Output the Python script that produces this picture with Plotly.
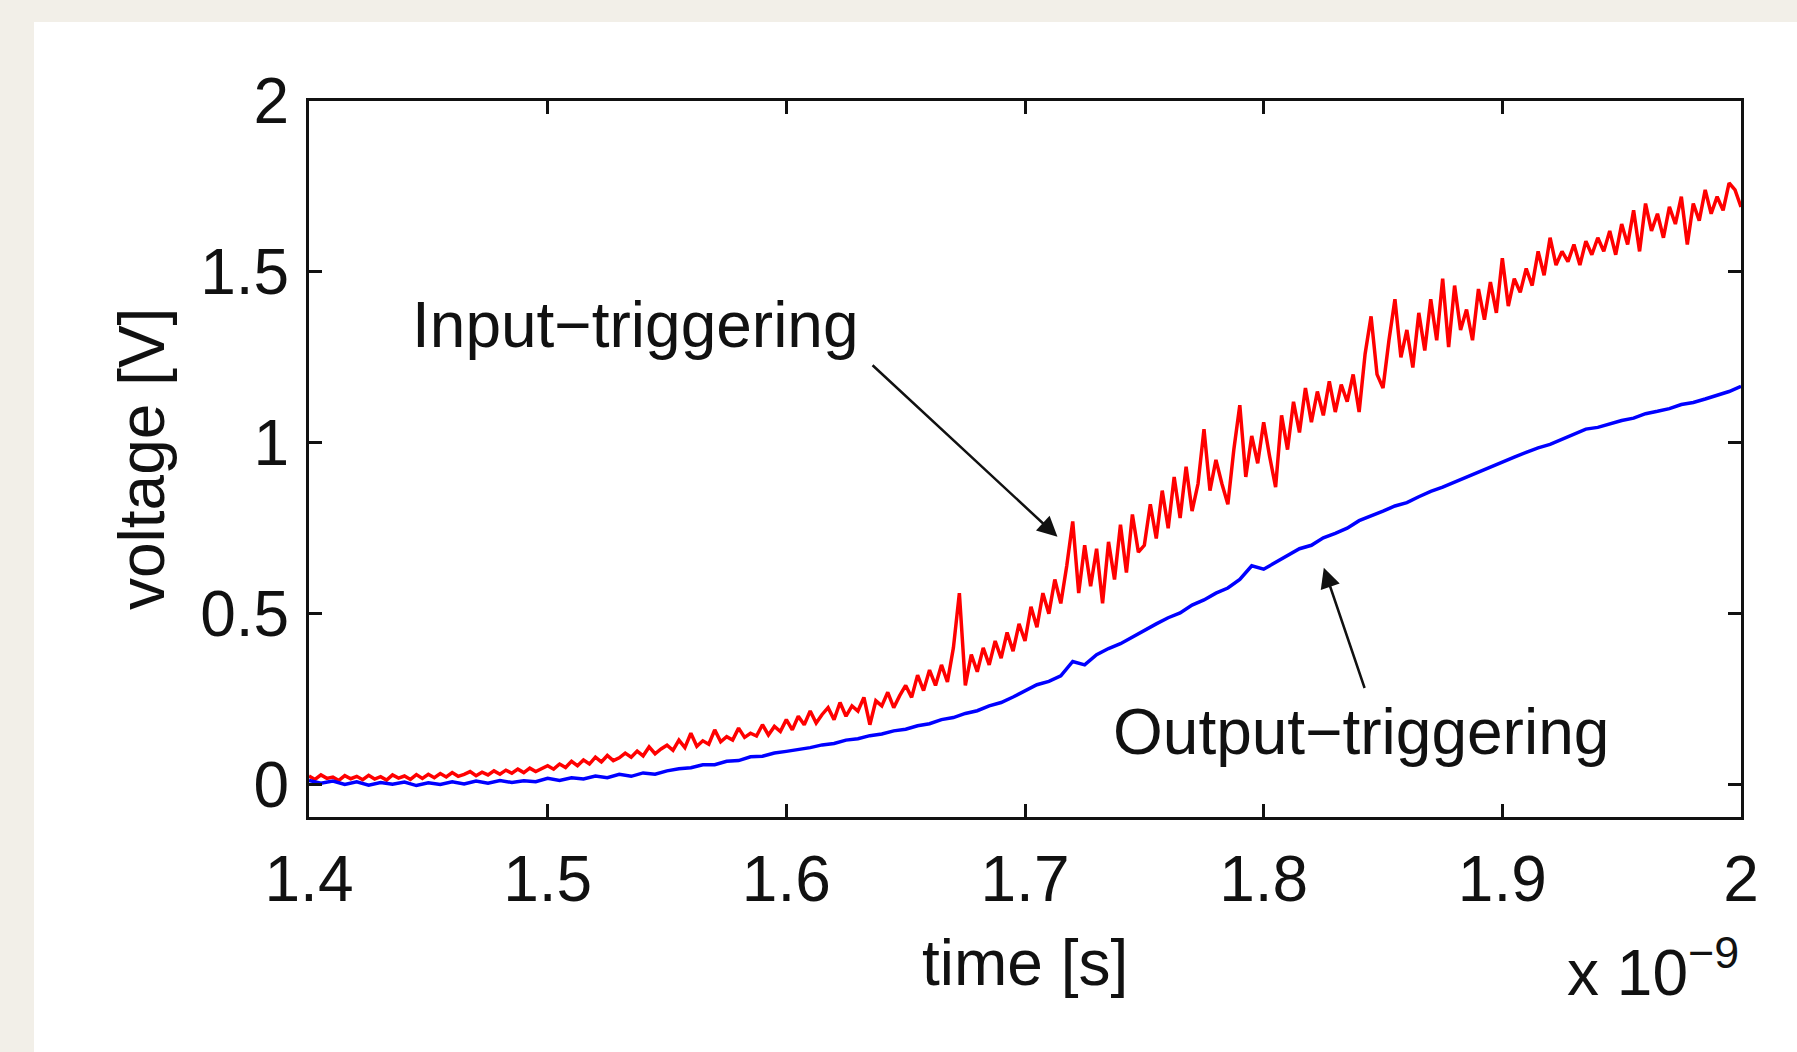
import plotly.graph_objects as go

# ---------------- data (time in units of 1e-9 s, voltage in V) ----------------
x_ticks = [1.4, 1.5, 1.6, 1.7, 1.8, 1.9, 2.0]
x_tick_labels = ["1.4", "1.5", "1.6", "1.7", "1.8", "1.9", "2"]
y_ticks = [0, 0.5, 1, 1.5, 2]
y_tick_labels = ["0", "0.5", "1", "1.5", "2"]

# Input-triggering (red), sampled every 0.0025 ns from 1.40 to 2.00
input_voltage = [
    # 1.40 - 1.45
    0.025, 0.015, 0.028, 0.018, 0.022, 0.012, 0.026, 0.017, 0.024, 0.014,
    0.027, 0.016, 0.023, 0.013, 0.028, 0.019, 0.025, 0.015, 0.029, 0.018,
    # 1.45 - 1.50
    0.030, 0.020, 0.032, 0.022, 0.035, 0.024, 0.030, 0.038, 0.026, 0.036,
    0.028, 0.040, 0.030, 0.042, 0.033, 0.045, 0.035, 0.048, 0.038, 0.046,
    # 1.50 - 1.55
    0.055, 0.045, 0.060, 0.050, 0.068, 0.055, 0.072, 0.060, 0.080, 0.066,
    0.085, 0.070, 0.078, 0.092, 0.080, 0.098, 0.084, 0.110, 0.090, 0.104,
    # 1.55 - 1.60
    0.115, 0.100, 0.130, 0.108, 0.150, 0.112, 0.128, 0.118, 0.160, 0.125,
    0.140, 0.130, 0.165, 0.138, 0.150, 0.142, 0.175, 0.145, 0.170, 0.155,
    # 1.60 - 1.65
    0.190, 0.160, 0.200, 0.175, 0.215, 0.180, 0.205, 0.225, 0.190, 0.240,
    0.200, 0.230, 0.215, 0.255, 0.175, 0.245, 0.230, 0.270, 0.225, 0.260,
    # 1.65 - 1.70
    0.290, 0.255, 0.320, 0.275, 0.335, 0.290, 0.350, 0.300, 0.400, 0.560,
    0.290, 0.380, 0.330, 0.400, 0.350, 0.420, 0.370, 0.445, 0.390, 0.470,
    # 1.70 - 1.75
    0.420, 0.520, 0.460, 0.560, 0.500, 0.600, 0.530, 0.640, 0.770, 0.560,
    0.700, 0.580, 0.690, 0.530, 0.710, 0.600, 0.760, 0.620, 0.790, 0.680,
    # 1.75 - 1.80
    0.700, 0.820, 0.720, 0.860, 0.750, 0.900, 0.780, 0.930, 0.800, 0.880,
    1.040, 0.860, 0.950, 0.880, 0.820, 0.980, 1.110, 0.900, 1.020, 0.940,
    # 1.80 - 1.85
    1.060, 0.960, 0.870, 1.080, 0.980, 1.120, 1.030, 1.160, 1.060, 1.150,
    1.080, 1.180, 1.090, 1.170, 1.120, 1.200, 1.090, 1.260, 1.370, 1.200,
    # 1.85 - 1.90
    1.160, 1.300, 1.420, 1.250, 1.330, 1.220, 1.380, 1.270, 1.420, 1.300,
    1.480, 1.280, 1.460, 1.330, 1.390, 1.300, 1.450, 1.360, 1.470, 1.380,
    # 1.90 - 1.95
    1.540, 1.400, 1.480, 1.440, 1.510, 1.460, 1.560, 1.490, 1.600, 1.520,
    1.560, 1.530, 1.580, 1.520, 1.590, 1.550, 1.600, 1.560, 1.620, 1.550,
    # 1.95 - 2.00
    1.640, 1.580, 1.680, 1.560, 1.700, 1.620, 1.670, 1.600, 1.690, 1.640,
    1.720, 1.580, 1.700, 1.650, 1.740, 1.670, 1.720, 1.680, 1.760, 1.740,
    1.690,
]
input_time = [round(1.4 + 0.0025 * i, 4) for i in range(len(input_voltage))]

# Output-triggering (blue), sampled every 0.005 ns from 1.40 to 2.00
output_voltage = [
    # 1.40 - 1.45
    0.012, 0.004, 0.010, 0.000, 0.008, -0.002, 0.006, 0.001, 0.007, -0.003,
    # 1.45 - 1.50
    0.005, 0.000, 0.008, 0.002, 0.010, 0.004, 0.012, 0.006, 0.011, 0.008,
    # 1.50 - 1.55
    0.018, 0.012, 0.020, 0.016, 0.025, 0.020, 0.030, 0.024, 0.034, 0.030,
    # 1.55 - 1.60
    0.040, 0.046, 0.049, 0.058, 0.058, 0.068, 0.070, 0.081, 0.083, 0.092,
    # 1.60 - 1.65
    0.097, 0.102, 0.108, 0.116, 0.120, 0.130, 0.134, 0.143, 0.148, 0.157,
    # 1.65 - 1.70
    0.162, 0.172, 0.178, 0.190, 0.196, 0.208, 0.216, 0.230, 0.240, 0.256,
    # 1.70 - 1.75
    0.275, 0.292, 0.302, 0.318, 0.360, 0.350, 0.380, 0.398, 0.412, 0.432,
    # 1.75 - 1.80
    0.450, 0.470, 0.488, 0.502, 0.525, 0.540, 0.560, 0.575, 0.600, 0.640,
    # 1.80 - 1.85
    0.630, 0.650, 0.668, 0.690, 0.700, 0.722, 0.735, 0.750, 0.772, 0.785,
    # 1.85 - 1.90
    0.800, 0.815, 0.825, 0.842, 0.858, 0.870, 0.885, 0.900, 0.915, 0.930,
    # 1.90 - 1.95
    0.945, 0.958, 0.972, 0.985, 0.995, 1.010, 1.025, 1.040, 1.045, 1.055,
    # 1.95 - 2.00
    1.065, 1.072, 1.085, 1.092, 1.100, 1.112, 1.118, 1.128, 1.138, 1.150,
    1.165,
]
output_time = [round(1.4 + 0.005 * i, 4) for i in range(len(output_voltage))]

# ---------------- figure ----------------
FONT = "Liberation Sans, Arial, Helvetica, sans-serif"
FS = 64
fig = go.Figure()

fig.add_trace(go.Scatter(x=input_time, y=input_voltage, mode="lines",
                         line=dict(color="#ff0000", width=3.5), name="Input-triggering"))
fig.add_trace(go.Scatter(x=output_time, y=output_voltage, mode="lines",
                         line=dict(color="#0000ff", width=3.5), name="Output-triggering"))

axis_common = dict(
    showline=True, linecolor="#111111", linewidth=3, mirror="ticks",
    ticks="inside", ticklen=13, tickwidth=3, tickcolor="#111111",
    showgrid=False, zeroline=False,
    tickfont=dict(family=FONT, size=FS, color="#111111"),
)

fig.update_xaxes(range=[1.4, 2.0], tickvals=x_ticks, ticktext=x_tick_labels,
                 ticklabelstandoff=4, **axis_common)
fig.update_yaxes(range=[-0.095, 2.0], tickvals=y_ticks, ticktext=y_tick_labels,
                 ticklabelstandoff=4, **axis_common)

annotations = [
    # axis titles
    dict(text="time [s]", xref="paper", yref="paper", x=0.5, y=(817 - 963) / 716,
         xanchor="center", yanchor="middle", showarrow=False,
         font=dict(family=FONT, size=FS, color="#111111")),
    dict(text="voltage [V]", xref="paper", yref="paper", x=(142 - 309) / 1432, y=0.5,
         xanchor="center", yanchor="middle", textangle=-90, showarrow=False,
         font=dict(family=FONT, size=FS, color="#111111")),
    # exponent label
    dict(text="x 10<sup>\u22129</sup>", xref="paper", yref="paper", x=1.0, y=(817 - 968) / 716,
         xanchor="right", yanchor="middle", showarrow=False,
         font=dict(family=FONT, size=FS, color="#111111")),
    # curve labels
    dict(text="Input\u2212triggering", xref="x", yref="y", x=1.537, y=1.345,
         xanchor="center", yanchor="middle", showarrow=False,
         font=dict(family=FONT, size=FS, color="#111111")),
    dict(text="Output\u2212triggering", xref="x", yref="y", x=1.8408, y=0.155,
         xanchor="center", yanchor="middle", showarrow=False,
         font=dict(family=FONT, size=FS, color="#111111")),
    # arrows
    dict(text="", xref="x", yref="y", axref="x", ayref="y",
         x=1.7136, y=0.725, ax=1.6355, ay=1.231,
         showarrow=True, arrowhead=2, arrowsize=1.6, arrowwidth=2.5, arrowcolor="#111111"),
    dict(text="", xref="x", yref="y", axref="x", ayref="y",
         x=1.8252, y=0.634, ax=1.8425, ay=0.278,
         showarrow=True, arrowhead=2, arrowsize=1.6, arrowwidth=2.5, arrowcolor="#111111"),
]

# white panel over beige page background
shapes = [
    dict(type="rect", xref="paper", yref="paper", layer="below",
         x0=(34 - 309) / 1432, x1=(1800 - 309) / 1432,
         y0=(817 - 1060) / 716, y1=(817 - 22) / 716,
         fillcolor="#ffffff", line=dict(width=0)),
]

fig.update_layout(
    width=1797, height=1052,
    margin=dict(l=309, r=56, t=101, b=235),
    paper_bgcolor="#f2efe8", plot_bgcolor="#ffffff",
    showlegend=False,
    annotations=annotations, shapes=shapes,
    font=dict(family=FONT, color="#111111"),
)

fig.write_html(
    "out.html",
    config={"displayModeBar": False},
    post_script="document.body.style.margin='0px';document.body.style.padding='0px';"
                "document.body.style.overflow='hidden';",
)
